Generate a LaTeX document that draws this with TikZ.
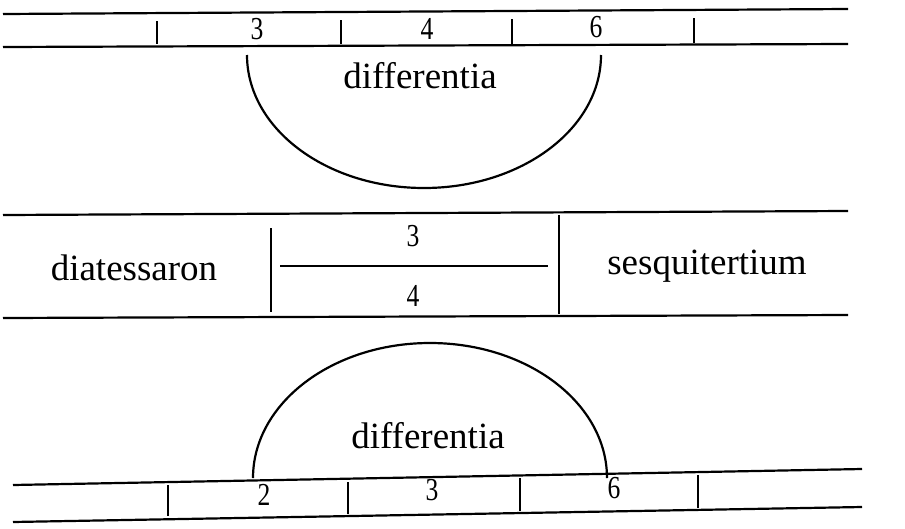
\documentclass[tikz,border=0pt]{standalone}
\usepackage{fontspec}
\setmainfont{Liberation Serif}
\newcommand{\narrowdigit}[1]{\scalebox{0.8}[1]{#1}}
\begin{document}
\begin{tikzpicture}[x=1pt,y=-1pt,
  rule/.style={line width=2.2pt},
  tick/.style={line width=2pt},
  curve/.style={line width=2.2pt},
  word/.style={inner sep=0pt,font=\fontsize{37}{37}\selectfont},
  digit/.style={inner sep=0pt,font=\fontsize{32}{32}\selectfont}]
\useasboundingbox (0,0) rectangle (905,528);
% ---- top band ----
\draw[rule] (3,14) -- (848,9);
\draw[rule] (3,47) -- (848,44);
\foreach \x/\a/\b in {157/21/44,341/20/44,512/19/44,694/18/43}
  \draw[tick] (\x,\a) -- (\x,\b);
\node[digit] (t3) at (257,29) {\narrowdigit{3}};
\node[digit] (t4) at (427,29) {\narrowdigit{4}};
\node[digit] (t6) at (596,27) {\narrowdigit{6}};
\draw[curve] (247,55) arc[start angle=180,end angle=0,x radius=177,y radius=133];
\node[word] (d1) at (420,76) {differentia};
% ---- middle band ----
\draw[rule] (3,215) -- (848,211);
\draw[rule] (3,318) -- (848,315);
\draw[tick] (271,228) -- (271,312);
\draw[tick] (559,215) -- (559,314);
\draw[line width=1.5pt] (280,266) -- (548,266);
\node[digit] (m3) at (413,236) {\narrowdigit{3}};
\node[digit] (m4) at (413,296) {\narrowdigit{4}};
\node[word] (dia) at (134,268) {diatessaron};
\node[word] (ses) at (707,266) {sesquitertium};
% ---- bottom band ----
\draw[rule] (13,485) -- (862,469);
\draw[rule] (13,522) -- (862,507);
\foreach \x/\a/\b in {168/485/516,348/482/514,520/478/511,698/475/508}
  \draw[tick] (\x,\a) -- (\x,\b);
\node[digit] (b2) at (264,495) {\narrowdigit{2}};
\node[digit] (b3) at (432,490) {\narrowdigit{3}};
\node[digit] (b6) at (614,488) {\narrowdigit{6}};
\draw[curve] (253,478) arc[start angle=180,end angle=360,x radius=177,y radius=135];
\node[word] (d2) at (428,436) {differentia};
\end{tikzpicture}
\end{document}
